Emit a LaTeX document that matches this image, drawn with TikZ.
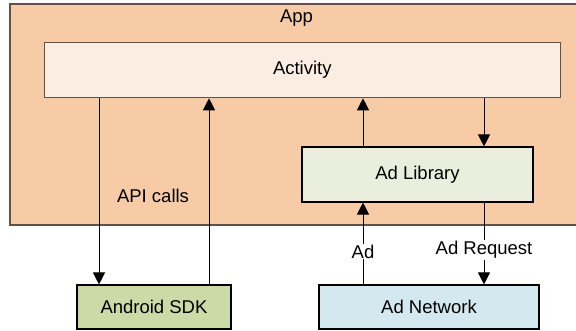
\documentclass[tikz,border=0pt]{standalone}
\usepackage{fontspec}
\setmainfont{Liberation Sans}
\usetikzlibrary{arrows.meta}
\definecolor{appfill}{HTML}{F8CBA7}
\definecolor{actfill}{HTML}{FCEDE2}
\definecolor{libfill}{HTML}{EAEEDC}
\definecolor{sdkfill}{HTML}{CCDAA7}
\definecolor{netfill}{HTML}{D3E9EF}
\definecolor{brownline}{HTML}{5E5249}
\tikzset{
  box/.style={draw, line width=1.1pt, inner sep=0pt, font=\fontsize{18.5}{22}\selectfont},
  arr/.style={line width=0.9pt, -{Triangle[width=12pt,length=12pt]}},
  lbl/.style={font=\fontsize{18.5}{22}\selectfont, inner sep=1pt},
}
\begin{document}
\begin{tikzpicture}[x=1pt,y=-1pt]
\useasboundingbox (0,0) rectangle (576,331);
% App container
\fill[appfill] (10,4) rectangle (578,225);
\draw[brownline, line width=1.3pt] (578,4) -- (10,4) -- (10,225) -- (578,225);
\node[lbl] (applbl) at (296.5,18.5) {App};
% boxes
\node[box, draw=brownline, fill=actfill, minimum width=516.5pt, minimum height=55.5pt] (act) at (302.3,70) {Activity};
\node[box, draw=black, fill=libfill, minimum width=231pt, minimum height=55pt] (adlib) at (417.5,174.5) {Ad Library};
\node[box, draw=black, fill=sdkfill, minimum width=154pt, minimum height=44pt] (sdk) at (154,307) {Android SDK};
\node[box, draw=black, fill=netfill, minimum width=220pt, minimum height=44pt] (adnet) at (429,307) {Ad Network};
% connectors
\draw[arr] (act.south -| 99,0) -- (sdk.north -| 99,0);
\draw[arr] (sdk.north -| 209,0) -- (act.south -| 209,0);
\draw[arr] (adlib.north -| 363,0) -- (act.south -| 363,0);
\draw[arr] (act.south -| 484,0) -- (adlib.north -| 484,0);
\draw[arr] (adnet.north -| 363,0) -- node[lbl, fill=white, pos=0.4] (adl) {Ad} (adlib.south -| 363,0);
\draw[arr] (adlib.south -| 484,0) -- node[lbl, fill=white, pos=0.58] (reql) {Ad Request} (adnet.north -| 484,0);
\node[lbl] (api) at (153,196) {API calls};
\end{tikzpicture}
\end{document}
